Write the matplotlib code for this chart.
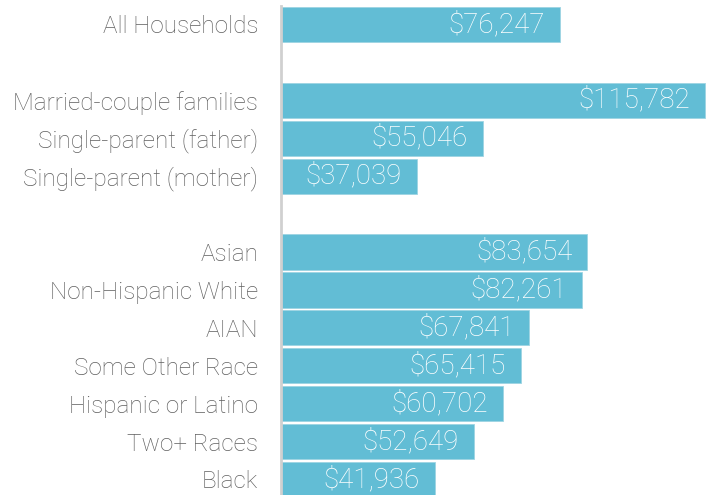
import matplotlib
matplotlib.use("Agg")
import matplotlib.pyplot as plt

categories = ["All Households", "", "Married-couple families", "Single-parent (father)",
              "Single-parent (mother)", "", "Asian", "Non-Hispanic White", "AIAN",
              "Some Other Race", "Hispanic or Latino", "Two+ Races", "Black"]
values = [76247, None, 115782, 55046, 37039, None, 83654, 82261, 67841, 65415, 60702, 52649, 41936]

W, H = 709, 495
fig = plt.figure(figsize=(W / 100, H / 100), dpi=100)
top_px = 6
ax = fig.add_axes([281 / W, 0, 1 - 281 / W, (H - top_px) / H])

bar_color = "#62BDD5"
pitch = (479.5 - 24.5) / 12.0
scale = 424 / 115782.0  # px per dollar

for i, (cat, v) in enumerate(zip(categories, values)):
    if v is None:
        continue
    ax.barh(i, v, height=0.93, color=bar_color, edgecolor="#9dd4e3", linewidth=0.6)
    ax.text(v - 15 / scale, i, f"${v:,}", ha="right", va="center", color="white",
            fontsize=20, family=["Roboto", "DejaVu Sans"], fontweight="light")

ax.set_yticks([i for i, c in enumerate(categories) if c])
ax.set_yticklabels([c for c in categories if c])
for lab in ax.get_yticklabels():
    lab.set_fontfamily(["Roboto", "DejaVu Sans"])
    lab.set_fontweight("light")
    lab.set_fontsize(17.5)
    lab.set_color("#5f5f5f")
ax.tick_params(axis="y", length=0, pad=16.5)
ax.tick_params(axis="x", bottom=False, labelbottom=False)

ax.set_xlim(0, (W - 281) / scale)
ax.set_ylim(12 + (H - 479.5) / pitch, -(24.5 - top_px) / pitch)

for s in ["top", "right", "bottom"]:
    ax.spines[s].set_visible(False)
ax.spines["left"].set_color("#d0d0d0")
ax.spines["left"].set_linewidth(2)

fig.savefig("out.png", dpi=100)
